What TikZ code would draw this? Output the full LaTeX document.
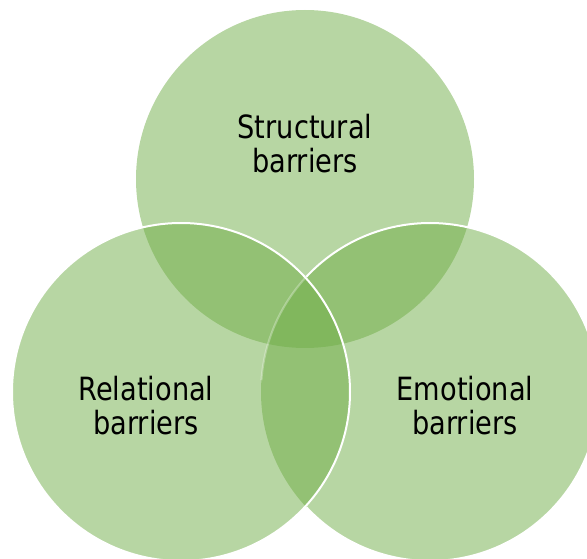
\documentclass[tikz,border=0pt]{standalone}
\usepackage{fontspec}
\setmainfont{DejaVu Sans}[FakeStretch=0.85]
\definecolor{vgreen}{HTML}{70AD47}
\begin{document}
\begin{tikzpicture}[x=1pt,y=1pt,
  venn/.style={circle, minimum size=338pt, inner sep=0pt, fill=vgreen, fill opacity=0.5},
  rim/.style={draw=white, line width=2pt},
  lbl/.style={align=center, text=black, font=\fontsize{32}{34}\selectfont}]
\useasboundingbox (0,0) rectangle (587,558);
\coordinate (tc) at (305,379);
\coordinate (lc) at (181,166);
\coordinate (rc) at (430,166);
\node[venn] (top) at (tc) {};
\node[venn] (right) at (rc) {};
\node[venn] (left) at (lc) {};
\draw[rim] ([shift={(-137:169pt)}]rc) arc[start angle=-137, end angle=137, radius=169pt];
\draw[rim, draw opacity=0.3] ([shift={(137:169pt)}]rc) arc[start angle=137, end angle=176, radius=169pt];
\draw[rim] (lc) circle[radius=169pt];
\node[lbl] (t1) at (305,414) {Structural\\barriers};
\node[lbl] (t2) at (146,152) {Relational\\barriers};
\node[lbl] (t3) at (465,152) {Emotional\\barriers};
\end{tikzpicture}
\end{document}
